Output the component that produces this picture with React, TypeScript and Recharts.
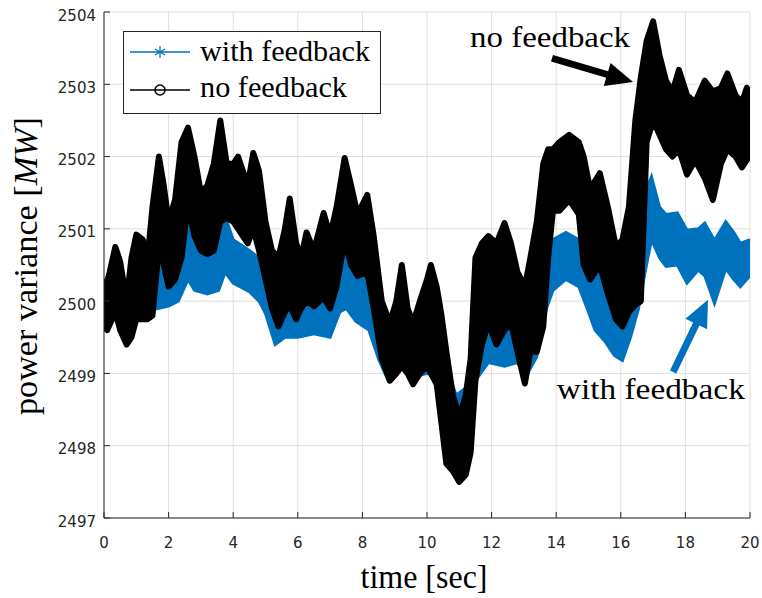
import React from "react";
import {
  ComposedChart,
  Area,
  XAxis,
  YAxis,
  CartesianGrid,
  Legend,
  ReferenceLine,
  ReferenceDot,
} from "recharts";

// axis ticks
const xTicks = [0, 2, 4, 6, 8, 10, 12, 14, 16, 18, 20];
const yTicks = [2497, 2498, 2499, 2500, 2501, 2502, 2503, 2504];

const seriesNames = ["with feedback", "no feedback"];
const seriesColors = ["#0072BD", "#000000"];

// "no feedback": envelope of the oscillating trace
const noFbTime = [
  0, 0.1, 0.2, 0.35, 0.5, 0.7, 0.85, 1.0, 1.2, 1.35, 1.5, 1.7, 1.85, 2.0, 2.2,
  2.4, 2.6, 2.8, 3.0, 3.2, 3.4, 3.6, 3.8, 4.0, 4.15, 4.45, 4.62, 4.8, 5.0, 5.2,
  5.4, 5.6, 5.75, 5.95, 6.1, 6.27, 6.5, 6.8, 7.0, 7.2, 7.45, 7.65, 7.85, 8.15,
  8.35, 8.6, 8.85, 9.05, 9.22, 9.4, 9.57, 9.78, 10.0, 10.12, 10.3, 10.45, 10.6,
  10.8, 11.0, 11.2, 11.35, 11.5, 11.7, 11.9, 12.15, 12.4, 12.6, 12.8, 13.03,
  13.2, 13.4, 13.6, 13.75, 13.9, 14.1, 14.4, 14.7, 14.85, 15.05, 15.35, 15.6,
  15.85, 16.05, 16.25, 16.45, 16.62, 16.8, 17.0, 17.2, 17.4, 17.6, 17.8, 18.05,
  18.3, 18.6, 18.85, 19.1, 19.3, 19.55, 19.75, 19.9, 20.0,
];
const noFbHigh = [
  2500.3, 2500.25, 2500.45, 2500.75, 2500.55, 2500.0, 2500.6, 2500.92, 2500.85,
  2500.6, 2501.3, 2502.0, 2501.6, 2501.1, 2501.4, 2502.2, 2502.4, 2502.0,
  2501.5, 2501.6, 2501.9, 2502.5, 2501.9, 2501.9, 2502.0, 2501.6, 2502.05,
  2501.8, 2501.1, 2500.7, 2500.6, 2501.0, 2501.42, 2500.8, 2500.6, 2500.95,
  2500.7, 2501.22, 2500.9, 2501.3, 2501.98, 2501.6, 2501.2, 2501.47, 2500.9,
  2500.0, 2499.7, 2500.0, 2500.5, 2499.9, 2499.7, 2500.0, 2500.3, 2500.5,
  2500.2, 2499.8, 2499.3, 2498.7, 2498.4, 2498.7, 2499.2, 2500.6, 2500.8,
  2500.9, 2500.8, 2501.08, 2500.8, 2500.4, 2500.2, 2500.6, 2501.1, 2501.9,
  2502.1, 2502.1, 2502.2, 2502.3, 2502.2, 2502.0, 2501.55, 2501.77, 2501.3,
  2500.75, 2500.85, 2501.3, 2502.5, 2503.1, 2503.6, 2503.87, 2503.4, 2503.05,
  2502.9, 2503.2, 2502.85, 2502.75, 2503.05, 2502.9, 2502.95, 2503.15, 2502.85,
  2502.75, 2502.95, 2502.9,
];
const noFbLow = [
  2499.65, 2499.6, 2499.7, 2499.85, 2499.6, 2499.4, 2499.5, 2499.75, 2499.75,
  2499.75, 2499.8, 2500.75, 2500.5, 2500.2, 2500.3, 2500.6, 2501.35, 2500.9,
  2500.7, 2500.65, 2500.7, 2501.1, 2501.15, 2501.1, 2501.0, 2500.8, 2501.0,
  2500.7, 2500.3, 2499.9, 2499.65, 2499.85, 2499.95, 2499.75, 2499.9, 2500.0,
  2499.93, 2500.05, 2499.9, 2500.2, 2500.85, 2500.5, 2500.35, 2500.4, 2499.9,
  2499.2, 2498.9, 2499.0, 2499.1, 2499.0, 2498.85, 2499.0, 2499.1, 2499.0,
  2498.85, 2498.3, 2497.75, 2497.65, 2497.5, 2497.6, 2497.9, 2498.9, 2499.4,
  2499.7, 2499.4, 2499.6, 2499.7, 2499.3, 2498.86, 2499.3, 2499.3, 2499.65,
  2500.6, 2501.25, 2501.25, 2501.4, 2501.2, 2500.5, 2500.3, 2500.5, 2500.1,
  2499.75, 2499.65, 2499.85, 2499.95, 2500.0, 2502.2, 2502.5, 2502.3, 2502.1,
  2502.0, 2502.1, 2501.75, 2501.95, 2501.7, 2501.4, 2501.9, 2502.1, 2502.0,
  2501.85, 2501.95, 2502.0,
];

// "with feedback": envelope
const fbTime = [
  0, 0.35, 0.7, 1.0, 1.35, 1.5, 1.7, 2.0, 2.3, 2.6, 2.8, 3.2, 3.55, 3.75, 4.0,
  4.5, 4.8, 5.0, 5.3, 5.6, 6.0, 6.5, 7.0, 7.3, 7.5, 7.8, 8.2, 8.5, 8.8, 9.2,
  9.6, 10.0, 10.3, 10.6, 10.9, 11.2, 11.5, 11.9, 12.4, 12.8, 13.05, 13.4, 13.7,
  13.9, 14.3, 14.7, 15.0, 15.2, 15.5, 15.8, 16.05, 16.3, 16.55, 16.75, 16.95,
  17.2, 17.4, 17.75, 18.05, 18.4, 18.6, 18.9, 19.25, 19.5, 19.7, 20.0,
];
const fbHigh = [
  2500.25, 2500.6, 2500.0, 2500.8, 2500.5, 2500.9, 2500.75, 2500.9, 2500.9,
  2501.3, 2500.75, 2500.7, 2500.95, 2501.17, 2500.85, 2500.7, 2500.6, 2500.4,
  2500.2, 2500.3, 2500.2, 2500.3, 2500.2, 2500.4, 2500.8, 2500.4, 2500.3,
  2499.9, 2499.6, 2499.8, 2499.7, 2499.8, 2499.6, 2499.1, 2498.7, 2498.8,
  2499.8, 2500.2, 2500.3, 2500.0, 2499.6, 2500.0, 2500.7, 2500.85, 2500.95,
  2500.85, 2500.6, 2500.4, 2500.3, 2500.0, 2499.95, 2500.3, 2500.9, 2501.5,
  2501.72, 2501.3, 2501.2, 2501.22, 2500.98, 2501.0, 2501.08, 2500.84, 2501.1,
  2500.95, 2500.8, 2500.85,
];
const fbLow = [
  2499.7, 2499.85, 2499.5, 2499.8, 2499.8, 2499.88, 2499.9, 2499.93, 2500.0,
  2500.3, 2500.15, 2500.1, 2500.15, 2500.4, 2500.25, 2500.13, 2500.0, 2499.83,
  2499.4, 2499.5, 2499.5, 2499.55, 2499.5, 2499.85, 2499.9, 2499.72, 2499.6,
  2499.2, 2498.9, 2499.1, 2498.95, 2499.0, 2498.97, 2498.2, 2497.8, 2497.8,
  2498.9, 2499.15, 2499.1, 2499.15, 2498.95, 2499.23, 2499.9, 2500.15, 2500.3,
  2500.2, 2499.85, 2499.6, 2499.45, 2499.25, 2499.18, 2499.5, 2499.9, 2500.4,
  2500.85, 2500.6, 2500.48, 2500.5, 2500.25, 2500.43, 2500.35, 2499.97, 2500.45,
  2500.3, 2500.2, 2500.35,
];

const noFbData = noFbTime.map((t, i) => ({ t, band: [noFbLow[i], noFbHigh[i]] }));
const fbData = fbTime.map((t, i) => ({ t, band: [fbLow[i], fbHigh[i]] }));

const SANS = "'DejaVu Sans', sans-serif";
const SERIF = "'Liberation Serif', serif";
const AXIS = "#262626";

function XTick(props: any) {
  const { x, y, payload } = props;
  return (
    <text x={x} y={y} dy={30} textAnchor="middle" fontFamily={SANS} fontSize={15} fill={AXIS}>
      {payload.value}
    </text>
  );
}

function YTick(props: any) {
  const { x, y, payload } = props;
  return (
    <text x={x} y={y} dy={8.5} textAnchor="end" fontFamily={SANS} fontSize={15} fill={AXIS}>
      {payload.value}
    </text>
  );
}

function arrow(color: string) {
  return (p: any) => {
    const { x1, y1, x2, y2 } = p;
    const dx = x2 - x1;
    const dy = y2 - y1;
    const len = Math.hypot(dx, dy) || 1;
    const ux = dx / len;
    const uy = dy / len;
    const nx = -uy;
    const ny = ux;
    const head = 27;
    const hw = 12;
    const sw = 3.5;
    const bx = x2 - ux * head;
    const by = y2 - uy * head;
    const pts = [
      [x1 + nx * sw, y1 + ny * sw],
      [bx + nx * sw, by + ny * sw],
      [bx + nx * hw, by + ny * hw],
      [x2, y2],
      [bx - nx * hw, by - ny * hw],
      [bx - nx * sw, by - ny * sw],
      [x1 - nx * sw, y1 - ny * sw],
    ];
    return <polygon points={pts.map((q) => q.join(",")).join(" ")} fill={color} />;
  };
}

function note(text: string, width: number) {
  return (p: any) => (
    <text
      x={p.cx}
      y={p.cy}
      textAnchor="middle"
      fontFamily={SERIF}
      fontSize={30}
      fill="#000"
      textLength={width}
      lengthAdjust="spacingAndGlyphs"
    >
      {text}
    </text>
  );
}

function LegendBox() {
  const blue = seriesColors[0];
  const black = seriesColors[1];
  return (
    <svg width={258} height={83} style={{ display: "block" }}>
      <rect x={0.5} y={0.5} width={257} height={82} fill="#fff" stroke={AXIS} />
      <line x1={7} x2={67} y1={21} y2={21} stroke={blue} strokeWidth={1.5} />
      <g stroke={blue} strokeWidth={1.3}>
        <line x1={37} x2={37} y1={15} y2={27} />
        <line x1={32} x2={42} y1={18} y2={24} />
        <line x1={32} x2={42} y1={24} y2={18} />
      </g>
      <text x={77} y={30} fontFamily={SERIF} fontSize={30} textLength={170} lengthAdjust="spacingAndGlyphs">
        {seriesNames[0]}
      </text>
      <line x1={7} x2={67} y1={59} y2={59} stroke={black} strokeWidth={1.5} />
      <circle cx={37} cy={59} r={5} fill="none" stroke={black} strokeWidth={1.5} />
      <text x={77} y={66} fontFamily={SERIF} fontSize={30} textLength={147} lengthAdjust="spacingAndGlyphs">
        {seriesNames[1]}
      </text>
    </svg>
  );
}

export default function App() {
  return (
    <div style={{ position: "absolute", left: 0, top: 0, width: 762, height: 598, background: "#fff" }}>
      <ComposedChart width={762} height={598} margin={{ top: 12, right: 12, bottom: 0, left: 0 }}>
        <CartesianGrid stroke="#dfdfdf" strokeWidth={1} />
        <XAxis
          xAxisId={0}
          type="number"
          dataKey="t"
          domain={[0, 20]}
          ticks={xTicks}
          allowDataOverflow
          height={80}
          stroke={AXIS}
          tickSize={-6}
          tickMargin={6}
          tick={<XTick />}
          label={{
            content: (p: any) => (
              <text
                x={p.viewBox.x + p.viewBox.width / 2 - 3}
                y={p.viewBox.y + 70}
                textAnchor="middle"
                fontFamily={SERIF}
                fontSize={33}
                fill="#000"
                textLength={127}
                lengthAdjust="spacingAndGlyphs"
              >
                time [sec]
              </text>
            ),
          }}
        />
        <XAxis
          xAxisId="top"
          orientation="top"
          type="number"
          dataKey="t"
          domain={[0, 20]}
          ticks={xTicks}
          allowDataOverflow
          height={0}
          stroke={AXIS}
          tickSize={-6}
          tick={false}
        />
        <YAxis
          yAxisId={0}
          type="number"
          domain={[2497, 2504]}
          ticks={yTicks}
          allowDataOverflow
          width={104}
          stroke={AXIS}
          tickSize={-6}
          tickMargin={14}
          tick={<YTick />}
          label={{
            content: (p: any) => (
              <text
                transform={`translate(37, ${p.viewBox.y + p.viewBox.height / 2 + 1}) rotate(-90)`}
                textAnchor="middle"
                fontFamily={SERIF}
                fontSize={33}
                fill="#000"
                textLength={298}
                lengthAdjust="spacingAndGlyphs"
              >
                power variance [<tspan fontStyle="italic">MW</tspan>]
              </text>
            ),
          }}
        />
        <YAxis
          yAxisId="right"
          orientation="right"
          type="number"
          domain={[2497, 2504]}
          ticks={yTicks}
          allowDataOverflow
          width={0}
          stroke={AXIS}
          tickSize={-6}
          tick={false}
        />
        <Area
          data={fbData}
          dataKey="band"
          name={seriesNames[0]}
          type="linear"
          stroke={seriesColors[0]}
          strokeWidth={3}
          fill={seriesColors[0]}
          fillOpacity={1}
          dot={false}
          activeDot={false}
          isAnimationActive={false}
        />
        <Area
          data={noFbData}
          dataKey="band"
          name={seriesNames[1]}
          type="linear"
          stroke={seriesColors[1]}
          strokeWidth={6}
          strokeLinejoin="round"
          fill={seriesColors[1]}
          fillOpacity={1}
          dot={false}
          activeDot={false}
          isAnimationActive={false}
        />
        <ReferenceLine
          segment={[
            { x: 13.87, y: 2503.36 },
            { x: 16.38, y: 2503.03 },
          ]}
          shape={arrow("#000")}
        />
        <ReferenceLine
          segment={[
            { x: 17.62, y: 2499.02 },
            { x: 18.7, y: 2500.02 },
          ]}
          shape={arrow(seriesColors[0])}
        />
        <ReferenceDot x={13.81} y={2503.52} shape={note("no feedback", 160)} />
        <ReferenceDot x={16.93} y={2498.64} shape={note("with feedback", 188)} />
        <Legend
          layout="horizontal"
          verticalAlign="middle"
          align="center"
          content={() => <LegendBox />}
          wrapperStyle={{ left: 123, top: 31, width: 258, height: 83 }}
        />
      </ComposedChart>
    </div>
  );
}
